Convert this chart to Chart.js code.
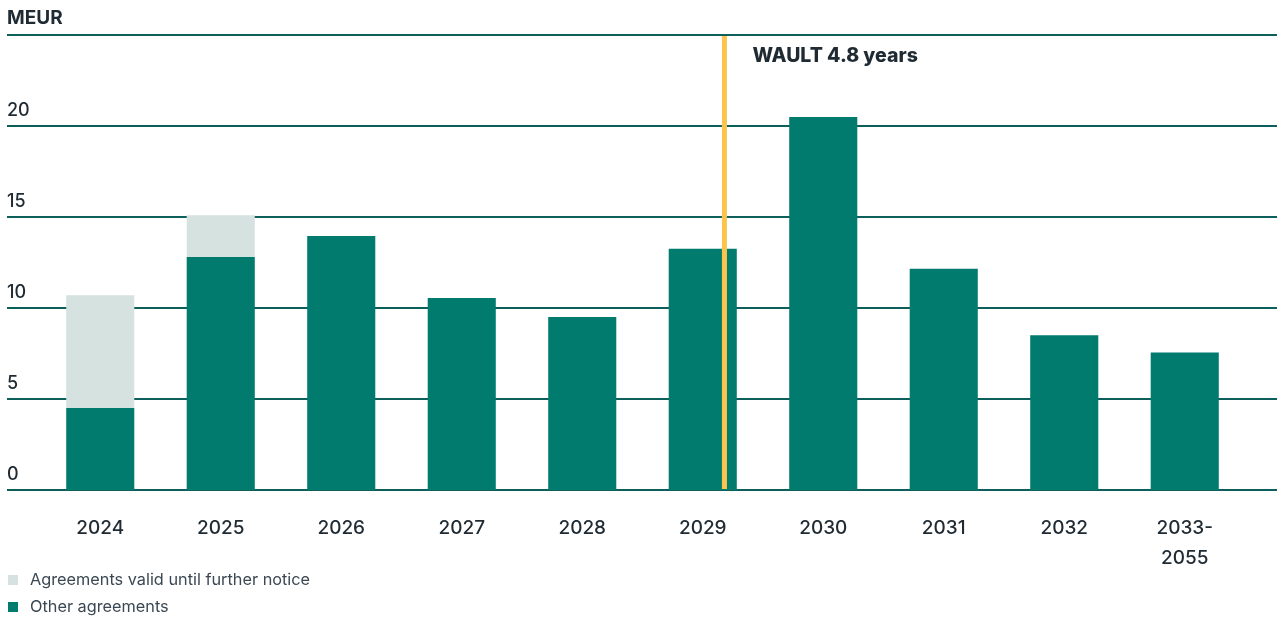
<!DOCTYPE html>
<html>
<head>
<meta charset="utf-8">
<script src="https://cdn.jsdelivr.net/npm/chart.js@4.4.1/dist/chart.umd.min.js"></script>
<style>
html,body{margin:0;padding:0;background:#fff;}
#wrap{position:relative;width:1277px;height:618px;}
canvas{display:block;}
</style>
</head>
<body>
<div id="wrap"><canvas id="c" width="1277" height="618"></canvas></div>
<script>
const categories = ['2024','2025','2026','2027','2028','2029','2030','2031','2032',['2033-','2055']];
const otherAgreements = [4.5, 12.8, 13.95, 10.55, 9.5, 13.25, 20.5, 12.15, 8.5, 7.55];
const untilNotice = [6.2, 2.3, 0, 0, 0, 0, 0, 0, 0, 0];
const yTicks = [0, 5, 10, 15, 20, 25];
const yTickLabels = ['0', '5', '10', '15', '20', ''];
const waultPosition = 5.18;
const waultLabel = 'WAULT 4.8 years';
const unitLabel = 'MEUR';
const legendLabels = ['Agreements valid until further notice', 'Other agreements'];

const TEAL = '#007b6e', LIGHT = '#d5e2df', GRID = '#0c5f5b', ORANGE = '#fcc44f', TEXT = '#1f2a33';
const FONT = 'Inter, "Open Sans", sans-serif';

const decor = {
  id: 'decor',
  beforeDatasetsDraw(chart) {
    const ctx = chart.ctx, y = chart.scales.y;
    ctx.save();
    ctx.strokeStyle = GRID; ctx.lineWidth = 2;
    yTicks.forEach((v, i) => {
      const py = Math.round(y.getPixelForValue(v));
      ctx.beginPath(); ctx.moveTo(7, py); ctx.lineTo(1277, py); ctx.stroke();
      if (yTickLabels[i]) {
        ctx.fillStyle = TEXT; ctx.font = '500 18px ' + FONT;
        ctx.textAlign = 'left'; ctx.textBaseline = 'alphabetic';
        ctx.fillText(yTickLabels[i], 7, py - 10);
      }
    });
    ctx.fillStyle = TEXT; ctx.font = 'bold 19px ' + FONT;
    ctx.textAlign = 'left'; ctx.textBaseline = 'alphabetic';
    ctx.fillText(unitLabel, 7, 24);
    ctx.restore();
  },
  afterDatasetsDraw(chart) {
    const ctx = chart.ctx, x = chart.scales.x, y = chart.scales.y;
    const step = x.getPixelForValue(1) - x.getPixelForValue(0);
    const base = Math.floor(waultPosition);
    const px = x.getPixelForValue(base) + (waultPosition - base) * step;
    ctx.save();
    ctx.fillStyle = ORANGE;
    const top = y.getPixelForValue(25) + 1, bot = y.getPixelForValue(0) - 1;
    ctx.fillRect(px - 2.5, top, 5, bot - top);
    ctx.fillStyle = TEXT; ctx.font = '800 19.5px ' + FONT;
    ctx.textAlign = 'left'; ctx.textBaseline = 'alphabetic';
    ctx.fillText(waultLabel, px + 28, 62);
    // legend
    const cols = [LIGHT, TEAL];
    legendLabels.forEach((t, i) => {
      const cy = 580 + i * 27;
      ctx.fillStyle = cols[i];
      ctx.fillRect(8, cy - 5, 10, 10);
      ctx.fillStyle = '#3b4853'; ctx.font = '16.3px ' + FONT;
      ctx.textBaseline = 'middle';
      ctx.fillText(t, 30, cy);
    });
    ctx.restore();
  }
};

new Chart(document.getElementById('c'), {
  type: 'bar',
  data: {
    labels: categories,
    datasets: [
      { label: legendLabels[1], data: otherAgreements, backgroundColor: TEAL, stack: 's' },
      { label: legendLabels[0], data: untilNotice, backgroundColor: LIGHT, stack: 's' }
    ]
  },
  options: {
    responsive: false,
    animation: false,
    devicePixelRatio: 1,
    layout: { padding: { left: 40, right: 32, top: 35, bottom: 22 } },
    plugins: { legend: { display: false }, tooltip: { enabled: false } },
    datasets: { bar: { barPercentage: 1, categoryPercentage: 0.565 } },
    scales: {
      x: {
        stacked: true,
        grid: { display: false, drawTicks: false },
        border: { display: false },
        ticks: { color: TEXT, font: { family: FONT, size: 19, weight: '500', lineHeight: '30px' }, padding: 23, maxRotation: 0, autoSkip: false },
      },
      y: {
        stacked: true, display: false, min: 0, max: 25,
      }
    }
  },
  plugins: [decor]
});
</script>
</body>
</html>
